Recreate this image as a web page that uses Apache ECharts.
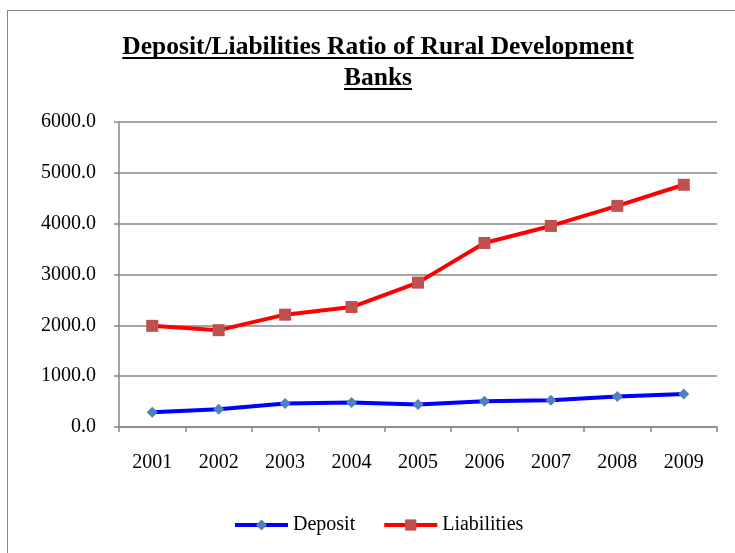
<!DOCTYPE html>
<html>
<head>
<meta charset="utf-8">
<script src="https://cdn.jsdelivr.net/npm/echarts@6/dist/echarts.min.js"></script>
<style>
	html, body { margin: 0; padding: 0; background: #fff; }
	#frame { position: absolute; left: 7px; top: 10px; width: 740px; height: 560px; border: 1.5px solid #868686; box-sizing: border-box; }
	#chart { position: absolute; left: 0; top: 0; width: 735px; height: 553px; }
</style>
</head>
<body>
<div id="frame"></div>
<div id="chart"></div>
<script>
// data
const years = ['2001', '2002', '2003', '2004', '2005', '2006', '2007', '2008', '2009'];
const deposit = [290, 350, 460, 480, 445, 505, 525, 600, 650];
const liabilities = [1990, 1905, 2210, 2360, 2840, 3620, 3955, 4350, 4765];
const titleLines = ['Deposit/Liabilities Ratio of Rural Development', 'Banks'];

const serif = '"Liberation Serif", "Times New Roman", serif';
const gray = '#868686';
const titleFont = 'bold 25.5px ' + serif;

// title as text + underline (echarts title has no underline)
const ctx = document.createElement('canvas').getContext('2d');
ctx.font = titleFont;
const titleGraphics = [];
titleLines.forEach(function (t, i) {
	const w = ctx.measureText(t).width;
	titleGraphics.push({
		type: 'text',
		x: 378,
		y: 47 + i * 31,
		style: { text: t, font: titleFont, fill: '#000', align: 'center', verticalAlign: 'middle' }
	});
	titleGraphics.push({
		type: 'rect',
		shape: { x: 378 - w / 2, y: 57 + i * 31, width: w, height: 2 },
		style: { fill: '#000' },
		silent: true
	});
});

const myChart = echarts.init(document.getElementById('chart'));
myChart.setOption({
	animation: false,
	graphic: titleGraphics,
	legend: {
		top: 510,
		left: 228,
		itemWidth: 53,
		itemHeight: 14,
		itemGap: 27,
		lineStyle: { width: 4 },
		textStyle: { fontFamily: serif, fontSize: 20, color: '#000' },
		data: ['Deposit', 'Liabilities']
	},
	grid: { left: 119, right: 18, top: 122, bottom: 126 },
	xAxis: {
		type: 'category',
		data: years,
		boundaryGap: true,
		axisLine: { lineStyle: { color: gray, width: 1.5 } },
		axisTick: { show: true, length: 5, lineStyle: { color: gray, width: 1.5 } },
		axisLabel: { fontFamily: serif, fontSize: 20, color: '#000', margin: 26 }
	},
	yAxis: {
		type: 'value',
		min: 0,
		max: 6000,
		interval: 1000,
		axisLine: { show: true, lineStyle: { color: gray, width: 1.5 } },
		axisTick: { show: true, length: 5, lineStyle: { color: gray, width: 1.5 } },
		splitLine: { lineStyle: { color: gray, width: 1.5 } },
		axisLabel: {
			fontFamily: serif, fontSize: 20, color: '#000', margin: 23,
			formatter: function (v) { return v.toFixed(1); }
		}
	},
	series: [
		{
			name: 'Deposit',
			type: 'line',
			data: deposit,
			symbol: 'diamond',
			symbolSize: 11,
			lineStyle: { color: '#0000FF', width: 4 },
			itemStyle: { color: '#4F81BD' }
		},
		{
			name: 'Liabilities',
			type: 'line',
			data: liabilities,
			symbol: 'rect',
			symbolSize: 12,
			lineStyle: { color: '#FF0000', width: 4 },
			itemStyle: { color: '#C0504D' }
		}
	]
});
</script>
</body>
</html>
